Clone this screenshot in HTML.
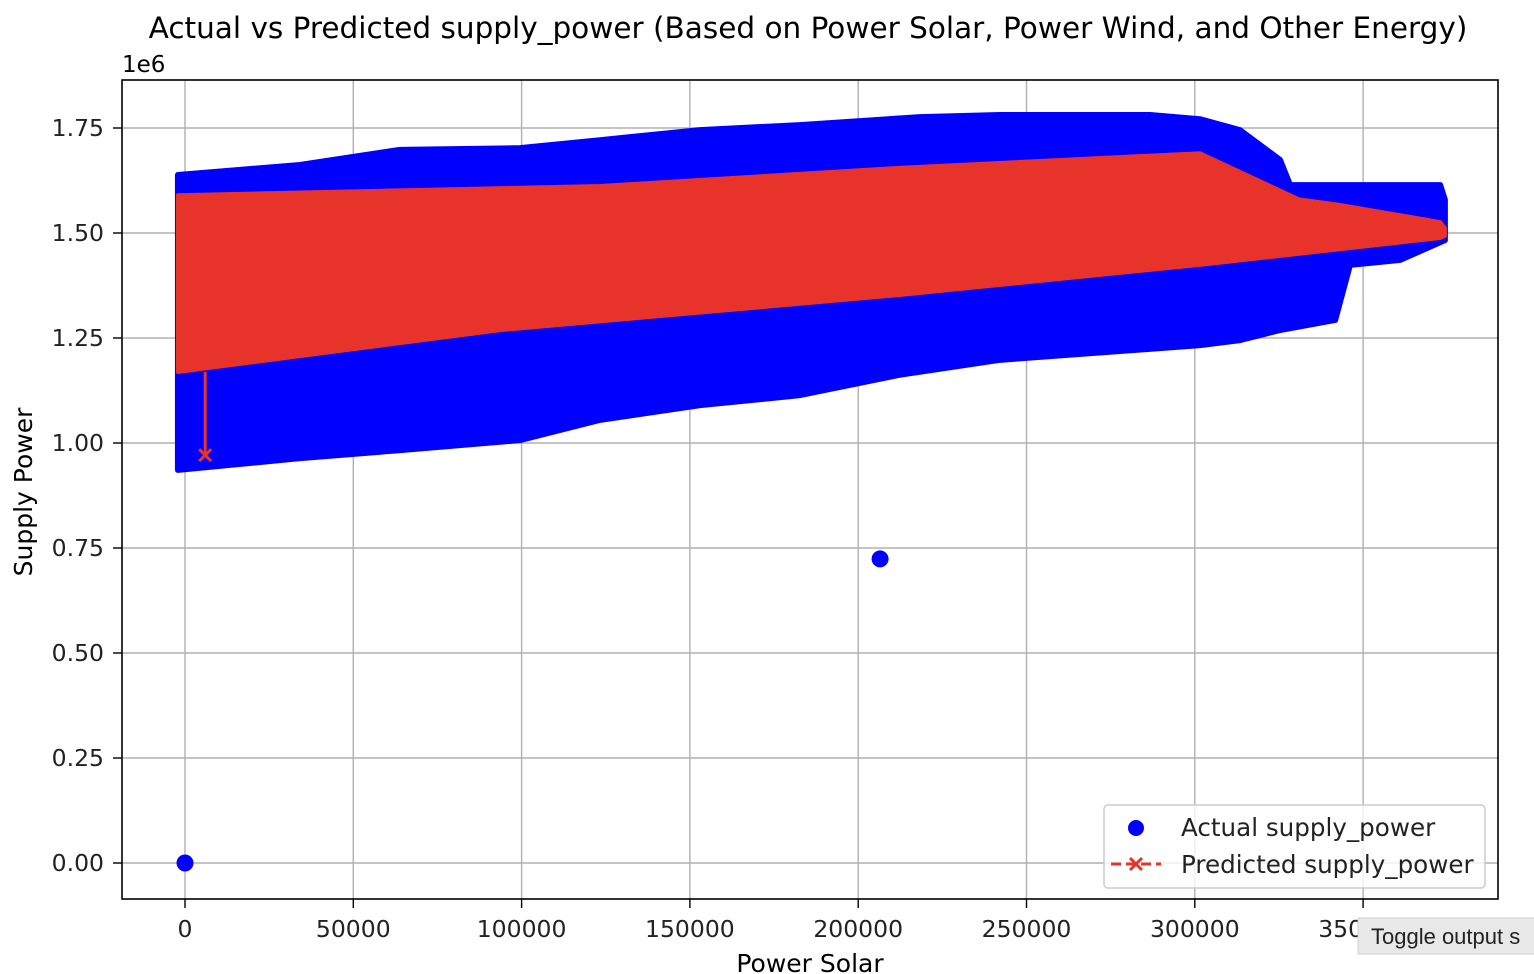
<!DOCTYPE html>
<html><head><meta charset="utf-8">
<style>
html,body{margin:0;padding:0;background:#fff;width:1534px;height:974px;overflow:hidden}
svg{display:block;font-family:"DejaVu Sans","Liberation Sans",sans-serif}
</style></head>
<body>
<svg id="chart" width="1534" height="974">
<g id="grid"></g>
<g id="marks"></g>
<rect x="122" y="80" width="1376" height="819" fill="none" stroke="#000" stroke-width="1.6"/>
<g id="ticks"></g>
<text x="808" y="38" text-anchor="middle" font-size="29.5" fill="#000">Actual vs Predicted supply_power (Based on Power Solar, Power Wind, and Other Energy)</text>
<text x="122" y="72" font-size="23" fill="#000">1e6</text>
<text x="810" y="972" text-anchor="middle" font-size="25" fill="#000">Power Solar</text>
<text transform="translate(32,492) rotate(-90)" text-anchor="middle" font-size="25" fill="#000">Supply Power</text>
<g>
<rect x="1104" y="805" width="381" height="83" rx="4" fill="#fff" fill-opacity="0.8" stroke="#ccc" stroke-width="1.5"/>
<g>
<circle cx="1136" cy="828" r="8" fill="#0000ff"/>
<text x="1181" y="836" font-size="24.6" fill="#222">Actual supply_power</text>
</g>
<g>
<line x1="1111" y1="864" x2="1161" y2="864" stroke="#e8332a" stroke-width="3" stroke-dasharray="10,5"/>
<path d="M1130 858 L1142 870 M1142 858 L1130 870" stroke="#e8332a" stroke-width="3"/>
<text x="1181" y="873" font-size="24.6" fill="#222">Predicted supply_power</text>
</g>
</g>
<g>
<rect x="1358" y="918" width="180" height="36" fill="#e8e8e8" stroke="#d0d0d0"/>
<text x="1371" y="944" font-size="22" fill="#222" font-family="Liberation Sans, sans-serif">Toggle output s</text>
</g>
</svg>
<script>
// axis ticks
const xTicks = [0, 50000, 100000, 150000, 200000, 250000, 300000, 350000];
const xTickLabels = ["0","50000","100000","150000","200000","250000","300000","350000"];
const yTicks = [0, 0.25, 0.5, 0.75, 1.0, 1.25, 1.5, 1.75];
const yTickLabels = ["0.00","0.25","0.50","0.75","1.00","1.25","1.50","1.75"];
// actual (blue) cloud envelope: x values with supply (1e6)
const actualEnvX = [-2100,34160,63870,99530,123300,153000,182700,218400,242100,286700,301500,313400,325300,328300,372900,374300,374300,361000,346100,341700,325300,313400,301500,242100,212000,182700,153000,123300,99530,63870,34160,-2100];
const actualEnvY = [1.638,1.662,1.698,1.702,1.721,1.745,1.757,1.776,1.781,1.781,1.771,1.745,1.674,1.614,1.614,1.579,1.483,1.436,1.424,1.293,1.269,1.245,1.233,1.198,1.162,1.114,1.090,1.055,1.007,0.983,0.964,0.936];
// predicted (red) cloud envelope
const predEnvX = [-2100,123300,212000,301500,331000,343000,372900,374300,374300,372900,301500,212000,94000,-2100];
const predEnvY = [1.590,1.612,1.655,1.690,1.580,1.567,1.526,1.512,1.493,1.488,1.424,1.352,1.269,1.169];
// outliers
const actualOutX = [206500, 0];
const actualOutY = [0.724, 0.0];
const predLowX = [6000];
const predLowY = [0.971];

const X = v => 185 + v / 50000 * 168.3;
const Y = v => 863 - v * 420;
const NS = "http://www.w3.org/2000/svg";
const grid = document.getElementById('grid');
const ticks = document.getElementById('ticks');
const marks = document.getElementById('marks');
function mk(tag, attrs, parent){const e=document.createElementNS(NS,tag);for(const k in attrs)e.setAttribute(k,attrs[k]);parent.appendChild(e);return e;}

xTicks.forEach((t,i)=>{
  const x=X(t);
  const g=mk('line',{x1:x,x2:x,y1:80,y2:899,stroke:'#b0b0b0','stroke-width':1.4},grid);
  
  
  mk('line',{x1:x,x2:x,y1:899,y2:908,stroke:'#000','stroke-width':1.4},ticks);
  const tx=mk('text',{x:x,y:937,'text-anchor':'middle','font-size':23.5,fill:'#222'},ticks);
  tx.textContent=xTickLabels[i];
  
  
});
yTicks.forEach((t,i)=>{
  const y=Y(t);
  const g=mk('line',{x1:122,x2:1498,y1:y,y2:y,stroke:'#b0b0b0','stroke-width':1.4},grid);
  
  
  mk('line',{x1:113,x2:122,y1:y,y2:y,stroke:'#000','stroke-width':1.4},ticks);
  const tx=mk('text',{x:104,y:y+8,'text-anchor':'end','font-size':23.5,fill:'#222'},ticks);
  tx.textContent=yTickLabels[i];
  
  
});

function pts(xs,ys){return xs.map((v,i)=>X(v)+','+Y(ys[i])).join(' ');}
const blue=mk('polygon',{points:pts(actualEnvX,actualEnvY),fill:'#0000ff',stroke:'#0000ff','stroke-width':6,'stroke-linejoin':'round'},marks);


actualOutX.forEach((v,i)=>{
  const c=mk('circle',{cx:X(v),cy:Y(actualOutY[i]),r:8.5,fill:'#0000ff'},marks);
  
  
});
const red=mk('polygon',{points:pts(predEnvX,predEnvY),fill:'#e8332a',stroke:'#e8332a','stroke-width':4,'stroke-linejoin':'round'},marks);


predLowX.forEach((v,i)=>{
  const x=X(v),y=Y(predLowY[i]);
  const l=mk('line',{x1:x,x2:x,y1:Y(1.169),y2:y,stroke:'#e8332a','stroke-width':3},marks);
  
  
  const p=mk('path',{d:`M${x-6} ${y-6} L${x+6} ${y+6} M${x+6} ${y-6} L${x-6} ${y+6}`,stroke:'#e8332a','stroke-width':3},marks);
  
  
});
</script>
</body></html>
